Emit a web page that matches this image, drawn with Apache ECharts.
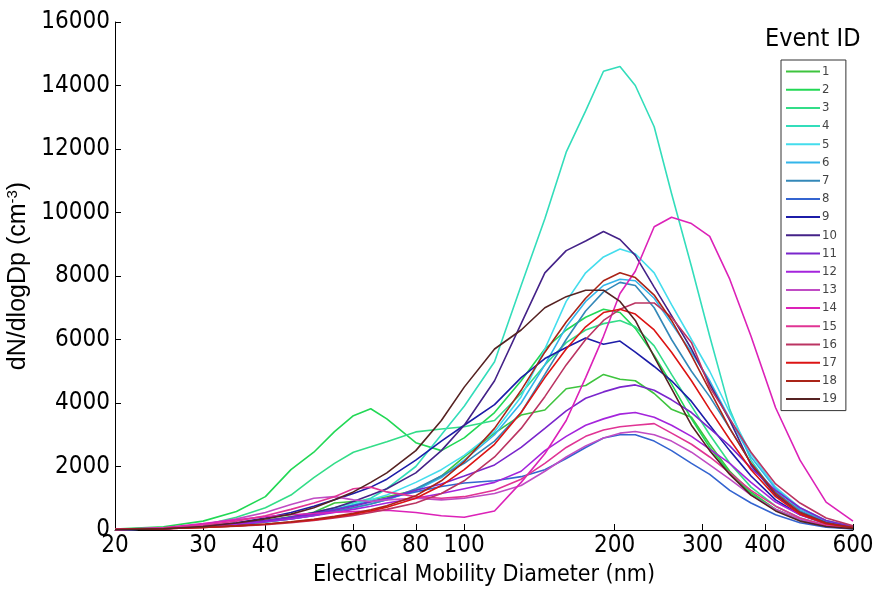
<!DOCTYPE html>
<html>
<head>
<meta charset="utf-8">
<title>dN/dlogDp by event</title>
<script src="https://cdn.jsdelivr.net/npm/echarts@6/dist/echarts.min.js"></script>
<style>
  html, body { margin: 0; padding: 0; background: #fff; }
  #chart { width: 875px; height: 593px; }
</style>
</head>
<body>
<div id="chart"></div>
<script>
// diameters (nm) shared by every event
const diameters = [20, 25, 30, 35, 40, 45, 50, 55, 60, 65, 70, 80, 90, 100, 115, 130, 145, 160, 175, 190, 205, 220, 240, 260, 285, 310, 340, 375, 420, 470, 530, 600]

// dN/dlogDp (cm-3) per event
const ev1 = [20, 50, 120, 200, 300, 420, 560, 850, 900, 950, 1050, 1250, 1700, 2300, 3050, 3620, 3780, 4450, 4550, 4900, 4750, 4700, 4300, 3800, 3550, 2700, 1850, 1200, 650, 320, 130, 50]
const ev2 = [30, 100, 280, 580, 1050, 1900, 2450, 3100, 3600, 3820, 3500, 2750, 2500, 2900, 3700, 4700, 5700, 6300, 6700, 6950, 6850, 6350, 5500, 4600, 3500, 2600, 1800, 1150, 650, 320, 130, 50]
const ev3 = [20, 60, 150, 400, 700, 1100, 1650, 2100, 2450, 2620, 2780, 3090, 3180, 3250, 3450, 4300, 5200, 5900, 6300, 6500, 6600, 6400, 5800, 4900, 3900, 3000, 2100, 1350, 750, 380, 150, 50]
const ev4 = [10, 40, 100, 180, 280, 400, 550, 700, 850, 1000, 1300, 2000, 3000, 3900, 5300, 7700, 9800, 11900, 13200, 14450, 14600, 14000, 12700, 10600, 8300, 6100, 3800, 2200, 1100, 550, 220, 70]
const ev5 = [10, 40, 100, 170, 260, 370, 500, 640, 800, 950, 1100, 1500, 1900, 2350, 3100, 4200, 5700, 7200, 8100, 8600, 8850, 8700, 8100, 7100, 6000, 5000, 3700, 2400, 1350, 700, 300, 120]
const ev6 = [10, 40, 100, 170, 250, 350, 460, 580, 700, 820, 950, 1250, 1650, 2200, 3000, 4000, 5200, 6400, 7200, 7700, 7900, 7850, 7300, 6500, 5600, 4700, 3500, 2300, 1300, 650, 280, 100]
const ev7 = [10, 40, 100, 170, 250, 350, 460, 580, 700, 820, 950, 1300, 1700, 2100, 2800, 3700, 4900, 6000, 6900, 7500, 7800, 7700, 7000, 6000, 5000, 4200, 3200, 2100, 1200, 600, 250, 90]
const ev8 = [10, 40, 100, 180, 280, 400, 520, 650, 780, 900, 1000, 1200, 1370, 1480, 1550, 1680, 1900, 2250, 2600, 2900, 3000, 3000, 2800, 2500, 2100, 1750, 1250, 850, 480, 230, 90, 30]
const ev9 = [10, 40, 120, 230, 380, 550, 750, 950, 1150, 1350, 1600, 2200, 2800, 3300, 3950, 4800, 5400, 5750, 6050, 5850, 5950, 5600, 5150, 4700, 4050, 3300, 2500, 1700, 950, 480, 200, 70]
const ev10 = [10, 40, 100, 180, 280, 400, 550, 700, 900, 1100, 1300, 1800, 2500, 3300, 4700, 6500, 8100, 8800, 9100, 9400, 9150, 8650, 7650, 6750, 5700, 4600, 3450, 2050, 1100, 550, 230, 80]
const ev11 = [10, 40, 120, 200, 300, 400, 500, 620, 750, 880, 1000, 1250, 1450, 1700, 2050, 2600, 3200, 3750, 4150, 4350, 4500, 4570, 4400, 4100, 3700, 3200, 2650, 1950, 1250, 700, 300, 100]
const ev12 = [10, 40, 100, 180, 260, 350, 450, 550, 650, 750, 850, 1000, 1150, 1300, 1500, 1850, 2500, 2950, 3300, 3500, 3650, 3700, 3550, 3300, 2950, 2550, 2100, 1500, 880, 480, 200, 60]
const ev13 = [15, 60, 180, 350, 550, 800, 1000, 1050, 950, 900, 950, 1000, 950, 1000, 1150, 1400, 1850, 2300, 2650, 2900, 3050, 3100, 3000, 2800, 2450, 2050, 1600, 1100, 650, 330, 130, 50]
const ev14 = [20, 70, 200, 320, 420, 480, 520, 560, 580, 600, 620, 550, 450, 400, 600, 1500, 2400, 3450, 4800, 6100, 7450, 8150, 9550, 9850, 9650, 9250, 7900, 6100, 3850, 2200, 880, 280]
const ev15 = [15, 50, 150, 280, 450, 650, 850, 1050, 1300, 1350, 1200, 1050, 1000, 1050, 1250, 1600, 2100, 2600, 2950, 3150, 3250, 3300, 3350, 3050, 2700, 2300, 1800, 1250, 750, 380, 150, 60]
const ev16 = [15, 40, 80, 120, 170, 230, 300, 380, 460, 550, 650, 850, 1150, 1550, 2300, 3200, 4200, 5200, 6000, 6600, 6950, 7150, 7150, 6700, 5900, 4500, 3500, 2450, 1450, 850, 380, 130]
const ev17 = [15, 40, 80, 130, 180, 250, 320, 400, 500, 600, 720, 1000, 1400, 1900, 2700, 3700, 4800, 5700, 6400, 6850, 6950, 6800, 6300, 5600, 4700, 3800, 2850, 1900, 1050, 500, 200, 70]
const ev18 = [15, 40, 80, 130, 190, 260, 340, 430, 530, 640, 760, 1080, 1550, 2150, 3200, 4400, 5600, 6550, 7300, 7850, 8100, 7950, 7400, 6600, 5500, 4400, 3200, 2100, 1150, 550, 220, 80]
const ev19 = [10, 40, 110, 220, 350, 500, 700, 950, 1200, 1500, 1800, 2500, 3450, 4500, 5700, 6300, 7000, 7350, 7550, 7550, 7200, 6600, 5450, 4450, 3300, 2500, 1750, 1100, 600, 280, 110, 40]

const events = [ev1, ev2, ev3, ev4, ev5, ev6, ev7, ev8, ev9, ev10, ev11, ev12, ev13, ev14, ev15, ev16, ev17, ev18, ev19]
const eventIds = ['1', '2', '3', '4', '5', '6', '7', '8', '9', '10', '11', '12', '13', '14', '15', '16', '17', '18', '19']
const xTicks = [20, 30, 40, 60, 80, 100, 200, 300, 400, 600]

// green -> cyan -> blue -> purple -> magenta -> red -> brown
const colors = ['#3ec43e', '#22d855', '#33dd88', '#33ddbb', '#44dded', '#33b5ea', '#3488b8', '#3464d0', '#1c1ca8',
  '#442288', '#7a26cc', '#a424dc', '#c04cc4', '#dc22b8', '#e03494', '#bb3462', '#dc1414', '#aa2418', '#562222']

// the original figure is stretched vertically, so its text looks narrow
const narrow = "'Liberation Sans Narrow', 'DejaVu Sans Condensed', 'Liberation Sans', Arial, sans-serif"
const font = "'Liberation Sans', Arial, sans-serif"

const chart = echarts.init(document.getElementById('chart'))

const series = events.map((vals, i) => ({
  name: eventIds[i],
  type: 'line',
  symbol: 'none',
  showSymbol: false,
  data: diameters.map((d, k) => [d, vals[k]]),
  lineStyle: { width: 1.6, color: colors[i] },
  itemStyle: { color: colors[i] }
}))

chart.setOption({
  animation: false,
  backgroundColor: '#fff',
  textStyle: { fontFamily: narrow },
  title: {
    text: 'Event ID',
    left: 765,
    top: 27,
    padding: 0,
    textStyle: { fontSize: 25, fontWeight: 'normal', color: '#000', fontFamily: narrow }
  },
  legend: {
    data: eventIds,
    orient: 'vertical',
    left: 781,
    top: 60,
    icon: 'rect',
    itemWidth: 34,
    itemHeight: 2,
    itemGap: 5.2,
    padding: [5, 9, 5, 5],
    borderColor: '#333',
    borderWidth: 1,
    textStyle: { fontSize: 13, color: '#444', fontFamily: narrow, padding: [0, 0, 0, -3] }
  },
  grid: {
    left: 115,
    right: 22,
    top: 22,
    bottom: 63,
    containLabel: false,
    outerBoundsMode: 'none'
  },
  xAxis: {
    type: 'log',
    logBase: 10,
    min: 20,
    max: 600,
    name: 'Electrical Mobility Diameter (nm)',
    nameLocation: 'middle',
    nameGap: 34,
    nameTextStyle: { fontSize: 23, color: '#000', fontFamily: narrow },
    axisLine: { lineStyle: { color: '#000', width: 1 } },
    axisTick: { inside: true, length: 6, customValues: xTicks, lineStyle: { color: '#000' } },
    axisLabel: { customValues: xTicks, fontSize: 24, color: '#000', margin: 4, fontFamily: narrow },
    minorTick: { show: false },
    splitLine: { show: false }
  },
  yAxis: {
    type: 'value',
    min: 0,
    max: 16000,
    interval: 2000,
    name: 'dN/dlogDp (cm{sup|-3})',
    nameLocation: 'middle',
    nameRotate: 90,
    nameGap: 74,
    nameTextStyle: {
      fontSize: 25,
      color: '#000',
      fontFamily: font,
      rich: {
        sup: { fontSize: 15, color: '#000', fontFamily: font, verticalAlign: 'top', padding: [0, 0, 10, 0] }
      }
    },
    axisLine: { show: true, lineStyle: { color: '#000', width: 1 } },
    axisTick: { show: true, inside: true, length: 6, lineStyle: { color: '#000' } },
    axisLabel: {
      fontSize: 24,
      color: '#000',
      margin: 5,
      fontFamily: narrow,
      formatter: v => String(v)
    },
    splitLine: { show: false }
  },
  series: series
})
</script>
</body>
</html>
